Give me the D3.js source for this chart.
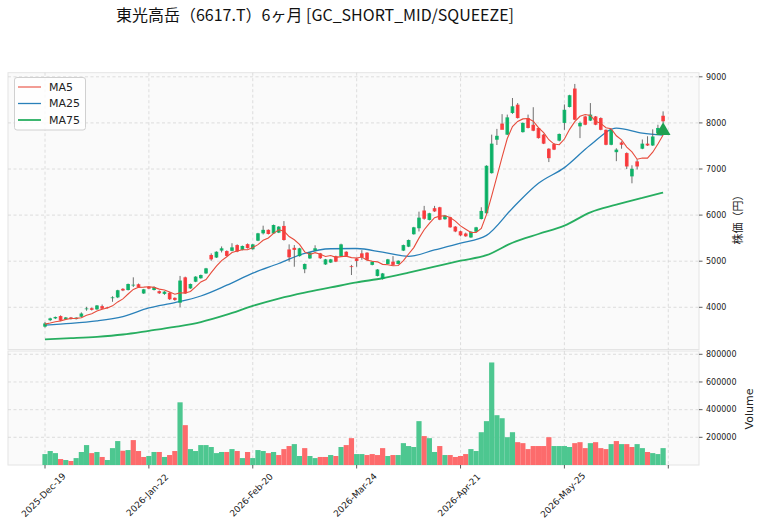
<!DOCTYPE html>
<html>
<head>
<meta charset="utf-8">
<script src="https://cdn.jsdelivr.net/npm/d3@7"></script>
<style>
	body{margin:0;background:#fff;}
	svg{display:block;font-family:"DejaVu Sans",sans-serif;}
</style>
</head>
<body>
<div id="chart"></div>
<script>
// ---- data ----
const title = "東光高岳（6617.T）6ヶ月 [GC_SHORT_MID/SQUEEZE]";

const tickIndex = [0, 20, 40, 60, 80, 100, 120];
const tickLabels = ["2025-Dec-19", "2026-Jan-22", "2026-Feb-20", "2026-Mar-24", "2026-Apr-21", "2026-May-25", ""];

const opens = [3580,3720,3760,3810,3745,3780,3745,3795,3960,3980,3955,4025,4000,4200,4215,4400,4375,4480,4500,4300,
	4445,4375,4350,4290,4315,4205,4100,4650,4410,4555,4630,4735,5135,5080,5230,5220,5225,5350,5245,5370,
	5260,5445,5605,5680,5600,5620,5765,5255,5290,5110,4825,5060,5230,5170,4930,4970,5110,5110,5205,4890,
	5060,5170,5185,4920,4680,4615,4940,4990,4940,5230,5315,5585,5715,6100,5895,6150,6170,5910,5955,5750,
	5650,5600,5515,5640,5915,6040,6910,7635,7985,7745,8215,8395,7800,8105,7960,7890,7745,7440,7540,7615,
	8000,8345,8745,7925,8140,8050,8140,8105,7850,7525,7365,7575,7345,6840,7165,7440,7550,7510,7780,8155];
const highs = [3680,3775,3800,3825,3790,3790,3785,3890,4010,3995,4050,4060,4010,4240,4380,4415,4515,4650,4515,4400,
	4460,4455,4365,4350,4330,4215,4680,4665,4515,4675,4710,4855,5170,5215,5320,5235,5390,5365,5340,5385,
	5375,5615,5770,5690,5795,5760,5870,5365,5350,5290,4950,5195,5345,5180,5050,5050,5120,5380,5215,4920,
	5075,5240,5195,5000,4830,4745,5050,5110,5020,5360,5470,5745,6075,6200,6050,6200,6180,6000,5965,5760,
	5665,5620,5650,5745,6170,7080,7745,7870,8190,8180,8540,8430,8010,8180,8340,7900,7760,7450,7560,7770,
	8400,8610,8845,8030,8155,8430,8150,8120,7860,7860,7450,7600,7360,7080,7210,7640,7710,7860,7960,8250];
const lows = [3560,3700,3745,3700,3730,3735,3735,3780,3925,3930,3945,3960,3975,4120,4200,4350,4365,4440,4425,4290,
	4395,4365,4290,4270,4160,4140,4000,4290,4400,4545,4620,4725,5010,5070,5190,5100,5215,5195,5235,5275,
	5250,5435,5580,5580,5590,5610,5445,4990,4880,5100,4740,5050,5220,5050,4920,4960,4980,5100,5100,4700,
	4880,5030,5020,4910,4670,4600,4930,4905,4930,5220,5305,5575,5645,5900,5885,6070,5890,5900,5725,5630,
	5540,5530,5505,5630,5905,6030,6900,7520,7950,7735,8195,8095,7790,7880,7820,7660,7540,7150,7410,7600,
	7850,8335,8060,7670,7950,8040,7950,7840,7515,7515,7170,7440,7000,6690,6990,7430,7500,7500,7770,8000];
const closes = [3650,3760,3790,3710,3780,3745,3775,3865,3975,3945,4040,3970,3990,4215,4370,4365,4505,4490,4435,4390,
	4405,4440,4305,4340,4175,4160,4580,4300,4505,4665,4700,4845,5040,5205,5280,5115,5300,5210,5330,5285,
	5365,5605,5680,5590,5785,5750,5460,5085,5245,5280,4940,5185,5280,5065,5040,5040,4990,5365,5115,4880,
	5005,5085,5030,4990,4820,4735,5040,4920,5010,5350,5460,5735,5945,5920,6040,6080,5900,5990,5735,5645,
	5560,5540,5640,5735,6090,7070,7550,7720,7850,8120,8360,8105,8000,7890,7830,7670,7550,7235,7420,7760,
	8285,8600,8070,8000,7960,8180,7960,7850,7525,7850,7420,7525,7055,7005,7055,7550,7510,7705,7890,8035];
const volumes = [79000,101000,86000,43000,36000,29000,50000,94000,144000,86000,94000,58000,36000,122000,173000,103000,108000,180000,101000,58000,
	65000,94000,94000,58000,72000,101000,453000,288000,115000,101000,144000,144000,130000,86000,94000,94000,115000,101000,50000,94000,
	50000,108000,101000,86000,94000,72000,115000,137000,151000,65000,122000,65000,50000,58000,58000,72000,65000,130000,144000,194000,
	79000,79000,72000,79000,72000,122000,65000,72000,72000,158000,137000,130000,317000,209000,194000,94000,137000,72000,72000,58000,
	65000,79000,115000,101000,237000,317000,741000,360000,338000,201000,237000,165000,158000,115000,137000,137000,137000,201000,137000,137000,
	137000,130000,158000,165000,122000,158000,165000,122000,115000,151000,173000,151000,151000,130000,151000,122000,94000,86000,79000,122000];
// closes before the window, needed for the first MA5 values and volume colours
const priorCloses = [3640, 3655, 3630, 3600];

// longer moving averages, read every 5 sessions
const maIndex = [0,5,10,15,20,25,30,35,40,45,50,55,60,65,70,75,80,85,90,95,100,105,110,115,119];
const ma25 = [3615,3650,3705,3800,3985,4100,4245,4480,4740,4950,5170,5270,5275,5195,5105,5245,5390,5560,6150,6690,7030,7520,7885,7780,7735];
const ma75 = [3305,3330,3360,3410,3490,3575,3680,3840,4030,4190,4320,4430,4540,4630,4750,4880,5010,5130,5400,5590,5770,6060,6225,6375,6490];

const priceTicks = [4000, 5000, 6000, 7000, 8000, 9000];
const volumeTicks = [200000, 400000, 600000, 800000];
const signalIndex = 119, signalPrice = 7830;

// ---- layout ----
const W = 764, H = 526;
const left = 8, right = 699;
const price = {top: 72.7, bottom: 349.5};
const vol = {top: 351, bottom: 465};
const col = {
	up: "#00b060", down: "#fe3032", wick: "#606060",
	vup: "#4dc790", vdown: "#fd6b6c",
	ma5: "#e74c3c", ma25: "#2980b9", ma75: "#27ae60",
	grid: "#d6d6d6", text: "#222"
};

const svg = d3.select("#chart").append("svg")
	.attr("width", W).attr("height", H);

const x = d3.scaleLinear().domain([0, 120]).range([45, 668.3]);
const step = x(1) - x(0);
const y = d3.scaleLinear().domain([4000, 9000]).range([307.3, 76.8]);
const yv = d3.scaleLinear().domain([0, 800000]).range([465, 354.3]);

const data = opens.map((o, i) => ({
	i: i, o: o, h: highs[i], l: lows[i], c: closes[i], v: volumes[i],
	prev: i == 0 ? priorCloses[priorCloses.length - 1] : closes[i - 1]
}));

// MA5 from closes
const allCloses = priorCloses.concat(closes);
const ma5 = closes.map((c, i) => d3.mean(allCloses.slice(i, i + 5)));

// panels
[price, vol].forEach(p => {
	svg.append("rect")
		.attr("x", left).attr("y", p.top)
		.attr("width", right - left).attr("height", p.bottom - p.top)
		.attr("fill", "#fafafa").attr("stroke", "#e4e4e4").attr("stroke-width", 1);
});

// clip for each panel
const defs = svg.append("defs");
defs.append("clipPath").attr("id", "clipP").append("rect")
	.attr("x", left).attr("y", price.top).attr("width", right - left).attr("height", price.bottom - price.top);
defs.append("clipPath").attr("id", "clipV").append("rect")
	.attr("x", left).attr("y", vol.top).attr("width", right - left).attr("height", vol.bottom - vol.top);

// grid
const grid = svg.append("g").attr("stroke", col.grid).attr("stroke-width", 0.8).attr("stroke-dasharray", "3,2.5");
[price, vol].forEach(p => {
	tickIndex.forEach(t => {
		grid.append("line").attr("x1", x(t)).attr("x2", x(t)).attr("y1", p.top).attr("y2", p.bottom);
	});
});
priceTicks.forEach(t => grid.append("line").attr("x1", left).attr("x2", right).attr("y1", y(t)).attr("y2", y(t)));
volumeTicks.forEach(t => grid.append("line").attr("x1", left).attr("x2", right).attr("y1", yv(t)).attr("y2", yv(t)));

// volume bars
svg.append("g").attr("clip-path", "url(#clipV)")
	.selectAll("rect").data(data).enter().append("rect")
	.attr("x", d => x(d.i) - step / 2)
	.attr("width", step)
	.attr("y", d => yv(d.v))
	.attr("height", d => yv(0) - yv(d.v))
	.attr("fill", d => d.c >= d.prev ? col.vup : col.vdown);

// moving averages
const pg = svg.append("g").attr("clip-path", "url(#clipP)");
const line = d3.line().curve(d3.curveMonotoneX);
pg.append("path")
	.attr("d", line(maIndex.map((t, k) => [x(t), y(ma75[k])])))
	.attr("fill", "none").attr("stroke", col.ma75).attr("stroke-width", 1.8);
pg.append("path")
	.attr("d", line(maIndex.map((t, k) => [x(t), y(ma25[k])])))
	.attr("fill", "none").attr("stroke", col.ma25).attr("stroke-width", 1.3);

// candles
const candle = pg.selectAll(".candle").data(data).enter().append("g").attr("class", "candle");
candle.append("line")
	.attr("x1", d => x(d.i)).attr("x2", d => x(d.i))
	.attr("y1", d => y(d.h)).attr("y2", d => y(d.l))
	.attr("stroke", col.wick).attr("stroke-width", 0.9);
candle.append("rect")
	.attr("x", d => x(d.i) - step * 0.35)
	.attr("width", step * 0.7)
	.attr("y", d => y(Math.max(d.o, d.c)))
	.attr("height", d => Math.max(0.8, Math.abs(y(d.o) - y(d.c))))
	.attr("fill", d => d.c >= d.o ? col.up : col.down)
	.attr("fill-opacity", 0.9);

pg.append("path")
	.attr("d", d3.line().curve(d3.curveLinear)(ma5.map((m, i) => [x(i), y(m)])))
	.attr("fill", "none").attr("stroke", col.ma5).attr("stroke-width", 1.1);

// signal marker
svg.append("path")
	.attr("d", d3.symbol(d3.symbolTriangle, 95)())
	.attr("transform", `translate(${x(signalIndex)}, ${y(signalPrice)})`)
	.attr("fill", "#1fa050");

// right axes
const axisP = svg.append("g").attr("transform", `translate(${right},0)`);
priceTicks.forEach(t => {
	axisP.append("line").attr("x1", 0).attr("x2", 3.5).attr("y1", y(t)).attr("y2", y(t)).attr("stroke", "#333").attr("stroke-width", 0.8);
	axisP.append("text").attr("x", 7).attr("y", y(t)).attr("dy", "0.35em")
		.attr("font-size", 8).attr("fill", col.text).text(t);
});
volumeTicks.forEach(t => {
	axisP.append("line").attr("x1", 0).attr("x2", 3.5).attr("y1", yv(t)).attr("y2", yv(t)).attr("stroke", "#333").attr("stroke-width", 0.8);
	axisP.append("text").attr("x", 7).attr("y", yv(t)).attr("dy", "0.35em")
		.attr("font-size", 8).attr("fill", col.text).text(t);
});

svg.append("text")
	.attr("transform", `translate(738, 217) rotate(-90)`)
	.attr("text-anchor", "middle").attr("dy", "0.35em")
	.attr("font-family", "'Noto Sans CJK JP', sans-serif")
	.attr("font-size", 11).attr("fill", col.text).text("株価（円）");
svg.append("text")
	.attr("transform", `translate(749, 409) rotate(-90)`)
	.attr("text-anchor", "middle").attr("dy", "0.35em")
	.attr("font-size", 11).attr("fill", col.text).text("Volume");

// bottom axis
const axisX = svg.append("g");
tickIndex.forEach((t, k) => {
	axisX.append("line").attr("x1", x(t)).attr("x2", x(t)).attr("y1", vol.bottom).attr("y2", vol.bottom + 3.5)
		.attr("stroke", "#333").attr("stroke-width", 0.8);
	axisX.append("text")
		.attr("transform", `translate(${x(t) - 1.5}, 495) rotate(-45)`)
		.attr("text-anchor", "middle").attr("dy", "0.35em")
		.attr("font-size", 9).attr("fill", col.text).text(tickLabels[k]);
});

// legend
const lg = svg.append("g");
lg.append("rect").attr("x", 14.5).attr("y", 77.5).attr("width", 71).attr("height", 52.5).attr("rx", 2.5)
	.attr("fill", "#fff").attr("fill-opacity", 0.8).attr("stroke", "#d0d0d0");
[["MA5", col.ma5, 1.1], ["MA25", col.ma25, 1.3], ["MA75", col.ma75, 1.8]].forEach((e, k) => {
	const ly = 87 + k * 16.5;
	lg.append("line").attr("x1", 18).attr("x2", 41).attr("y1", ly).attr("y2", ly)
		.attr("stroke", e[1]).attr("stroke-width", e[2]);
	lg.append("text").attr("x", 49).attr("y", ly).attr("dy", "0.36em")
		.attr("font-size", 11).attr("fill", col.text).text(e[0]);
});

// title
svg.append("text")
	.attr("x", 315).attr("y", 21)
	.attr("text-anchor", "middle")
	.attr("font-family", "'Noto Sans CJK JP', sans-serif")
	.attr("font-size", 16).attr("fill", "#111").text(title);
</script>
</body>
</html>
